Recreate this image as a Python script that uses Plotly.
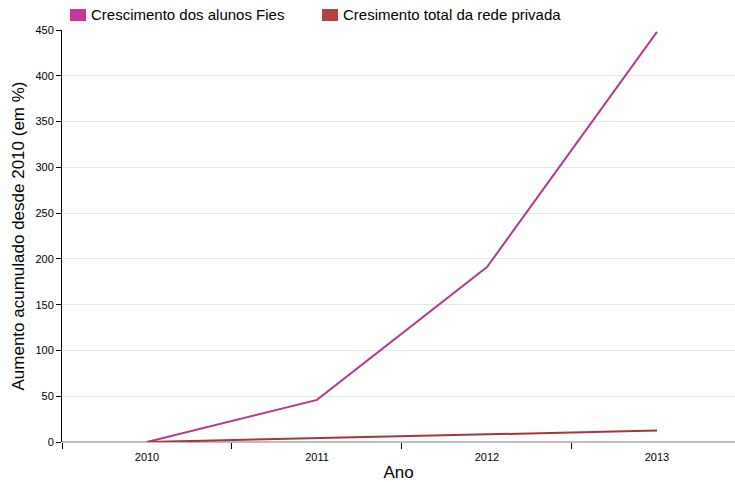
import plotly.graph_objects as go

anos = ["2010", "2011", "2012", "2013"]
fies = [0, 46, 191, 448]
privada = [0, 4, 8, 12.5]
nomes = ["Crescimento dos alunos Fies", "Cresimento total da rede privada"]
cores_linha = ["#b43a8e", "#a8343e"]
cores_legenda = ["#cc3399", "#b5403f"]
y_ticks = [0, 50, 100, 150, 200, 250, 300, 350, 400, 450]

W, H = 735, 482
L, T, B, R = 62, 30, 40, 0
PW, PH = W - L - R, H - T - B

fig = go.Figure()
for nome, vals, cor in zip(nomes, [fies, privada], cores_linha):
    fig.add_trace(go.Scatter(x=anos, y=vals, mode="lines", name=nome,
                             line=dict(color=cor, width=2), showlegend=False))

leg_x = [70, 322]
for lx, nome, cor in zip(leg_x, nomes, cores_legenda):
    fig.add_shape(type="rect", xref="paper", yref="paper",
                  x0=(lx - L) / PW, x1=(lx + 16 - L) / PW,
                  y0=(T + PH - 21) / PH, y1=(T + PH - 9) / PH,
                  fillcolor=cor, line=dict(width=0))
    fig.add_annotation(text=nome, xref="paper", yref="paper",
                       x=(lx + 19 - L) / PW, y=(T + PH - 15) / PH,
                       xanchor="left", yanchor="middle", showarrow=False,
                       font=dict(size=15, color="#000"))

fig.update_layout(
    width=W, height=H,
    margin=dict(l=L, r=R, t=T, b=B, autoexpand=False),
    paper_bgcolor="white", plot_bgcolor="white",
    font=dict(family="Liberation Sans, Arial, sans-serif", color="#000"),
    showlegend=False,
    xaxis=dict(type="category", range=[-0.5, 3.459], tickson="boundaries",
               ticks="outside", ticklen=6, tickcolor="#000", tickwidth=1,
               showline=False, showgrid=False, zeroline=False,
               tickfont=dict(size=11), automargin=False,
               ticklabelstandoff=7,
               title=dict(text="Ano", font=dict(size=17), standoff=10)),
    yaxis=dict(range=[0, 450], tickvals=y_ticks, ticks="outside", ticklen=5,
               tickcolor="#000", showline=True, linecolor="#000", linewidth=1,
               showgrid=True, gridcolor="#e6e6e6", zeroline=True,
               zerolinecolor="#bdbdbd", zerolinewidth=2,
               tickfont=dict(size=11), automargin=False,
               title=dict(text="Aumento acumulado desde 2010 (em %)",
                          font=dict(size=17), standoff=6)),
)

fig.write_html("out.html", config={"displayModeBar": False},
               post_script="document.body.style.margin='0';"
                           "document.body.style.overflow='hidden';")
